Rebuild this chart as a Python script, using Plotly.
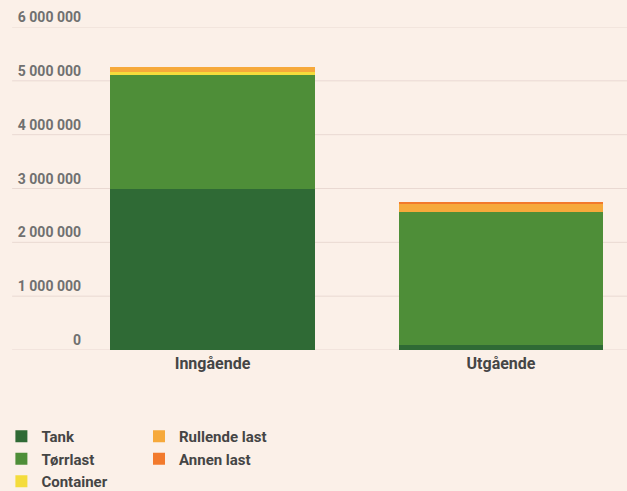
import plotly.graph_objects as go

categories = ["Inngående", "Utgående"]
tank = [3000000, 100000]
torrlast = [2100000, 2470000]
container = [70000, 0]
rullende = [80000, 150000]
annen = [0, 30000]

series_names = ["Tank", "Tørrlast", "Container", "Rullende last", "Annen last"]
series_values = [tank, torrlast, container, rullende, annen]
series_colors = ["#2f6a35", "#4e8e38", "#f4dc3c", "#f6a93b", "#f27a2c"]
series_legend = ["legend", "legend", "legend", "legend2", "legend2"]

y_ticks = [0, 1000000, 2000000, 3000000, 4000000, 5000000, 6000000]
y_ticktext = ["0", "1 000 000", "2 000 000", "3 000 000", "4 000 000", "5 000 000", "6 000 000"]

bg = "#fbf0e8"
grid = "#e9d9d2"

fig = go.Figure()
for name, vals, col, lg in zip(series_names, series_values, series_colors, series_legend):
    fig.add_trace(go.Bar(
        x=categories, y=vals, name=name, marker=dict(color=col, line=dict(width=0)),
        width=0.71, legend=lg,
    ))

shapes = []
for v in y_ticks:
    shapes.append(dict(type="line", xref="paper", yref="y", x0=-0.145, x1=1.0, y0=v, y1=v,
                       line=dict(color=grid, width=1), layer="below"))

legend_font = dict(family="Roboto", size=15, color="#454545", weight="bold")

fig.update_layout(
    width=627, height=491,
    margin=dict(l=90, r=0, t=27, b=141, autoexpand=False),
    paper_bgcolor=bg, plot_bgcolor=bg,
    barmode="stack",
    showlegend=True,
    shapes=shapes,
    font=dict(family="Roboto", size=12, color="#555555"),
    xaxis=dict(
        range=[-0.4246, 1.4367], showgrid=False, zeroline=False, showline=False,
        ticks="", tickfont=dict(family="Roboto", size=16, color="#454545", weight="bold"),
        fixedrange=True, ticklabelstandoff=2,
    ),
    yaxis=dict(
        range=[0, 6000000], tickvals=y_ticks, ticktext=y_ticktext,
        showgrid=False, zeroline=False, showline=False, ticks="",
        ticklabelposition="outside top",
        tickfont=dict(family="Roboto", size=14, color="#707070", weight="bold"),
        ticklabelstandoff=8,
    ),
    legend=dict(
        x=-0.165, xanchor="left", y=-0.2167, yanchor="top", orientation="v",
        bgcolor="rgba(0,0,0,0)", tracegroupgap=0, itemwidth=30,
        font=legend_font, traceorder="normal",
    ),
    legend2=dict(
        x=0.0912, xanchor="left", y=-0.2167, yanchor="top", orientation="v",
        bgcolor="rgba(0,0,0,0)", tracegroupgap=0, itemwidth=30,
        font=legend_font, traceorder="normal",
    ),
)

fig.write_html("out.html", post_script="document.body.style.margin='0';",
               config={"displayModeBar": False})
